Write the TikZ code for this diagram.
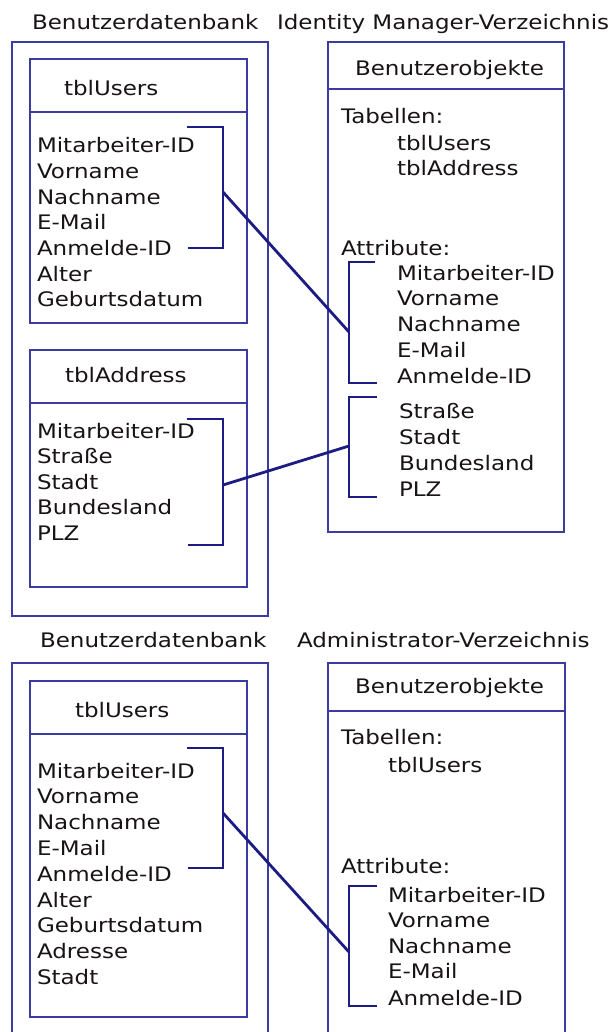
\documentclass[tikz,border=0pt]{standalone}
\usepackage{fontspec}
\setmainfont{DejaVu Sans}[FakeStretch=1.15]
\definecolor{boxc}{RGB}{60,60,160}
\definecolor{linkc}{RGB}{28,28,130}
\definecolor{txt}{RGB}{25,20,20}
\begin{document}
\begin{tikzpicture}[x=1pt,y=-1pt,
  lbl/.style={inner sep=0pt, outer sep=0pt, anchor=base west, font=\fontsize{20}{24}\selectfont, text=txt},
  boxnode/.style={draw=boxc, line width=2.6pt, anchor=north west, inner sep=0pt, outer sep=0pt},
  boxline/.style={draw=boxc, line width=2.6pt},
  link/.style={draw=linkc, line width=2.8pt}]
\useasboundingbox (0,0) rectangle (613,1032);
\fill[white] (0,0) rectangle (613,1032);

% ---------- top section ----------
\node[lbl] (h1) at (32,30) {Benutzerdatenbank};
\node[lbl] (h2) at (277,30) {Identity Manager-Verzeichnis};

\node[boxnode, minimum width=256pt, minimum height=574pt] (db1) at (12,42) {};
\node[boxnode, minimum width=217pt, minimum height=264pt] (u1) at (30,59) {};
\draw[boxline] (u1.west |- 0,112) -- (u1.east |- 0,112);
\node[boxnode, minimum width=217pt, minimum height=237pt] (a1) at (30,350) {};
\draw[boxline] (a1.west |- 0,403) -- (a1.east |- 0,403);
\node[boxnode, minimum width=236pt, minimum height=490pt] (ob1) at (328,42) {};
\draw[boxline] (ob1.west |- 0,89) -- (ob1.east |- 0,89);

\node[lbl] (u1h) at (64,96) {tblUsers};
\node[lbl] (u1f1) at (37,153) {Mitarbeiter-ID};
\node[lbl] (u1f2) at (37,178.6) {Vorname};
\node[lbl] (u1f3) at (37,204.2) {Nachname};
\node[lbl] (u1f4) at (37,229.8) {E-Mail};
\node[lbl] (u1f5) at (37,255.4) {Anmelde-ID};
\node[lbl] (u1f6) at (37,281) {Alter};
\node[lbl] (u1f7) at (37,306.6) {Geburtsdatum};

\node[lbl] (a1h) at (65,382) {tblAddress};
\node[lbl] (a1f1) at (37,438) {Mitarbeiter-ID};
\node[lbl] (a1f2) at (37,463.6) {Straße};
\node[lbl] (a1f3) at (37,489.2) {Stadt};
\node[lbl] (a1f4) at (37,514.8) {Bundesland};
\node[lbl] (a1f5) at (37,540.4) {PLZ};

\node[lbl] (o1h) at (355,76) {Benutzerobjekte};
\node[lbl] (o1t) at (341,124) {Tabellen:};
\node[lbl] (o1t1) at (397,151) {tblUsers};
\node[lbl] (o1t2) at (397,176) {tblAddress};
\node[lbl] (o1a) at (341,255) {Attribute:};
\node[lbl] (o1a1) at (397,280) {Mitarbeiter-ID};
\node[lbl] (o1a2) at (397,305.7) {Vorname};
\node[lbl] (o1a3) at (397,331.4) {Nachname};
\node[lbl] (o1a4) at (397,357.1) {E-Mail};
\node[lbl] (o1a5) at (397,383) {Anmelde-ID};
\node[lbl] (o1b1) at (399,418) {Straße};
\node[lbl] (o1b2) at (399,444) {Stadt};
\node[lbl] (o1b3) at (399,470) {Bundesland};
\node[lbl] (o1b4) at (399,496) {PLZ};

% brackets and connectors (top)
\coordinate (j1) at (223,192);
\coordinate (k1) at (349,332);
\coordinate (j2) at (223,485);
\coordinate (k2) at (349,446);
\draw[link] (187,127) -- (223,127) -- (223,248) -- (188,248);
\draw[link] (375,262) -- (349,262) -- (349,383) -- (377,383);
\draw[link] (187,419) -- (223,419) -- (223,545) -- (188,545);
\draw[link] (377,397) -- (349,397) -- (349,497) -- (377,497);
\draw[link] (j1) -- (k1);
\draw[link] (j2) -- (k2);

% ---------- bottom section ----------
\node[lbl] (h3) at (40,647) {Benutzerdatenbank};
\node[lbl] (h4) at (297,647) {Administrator-Verzeichnis};

\draw[boxline] (12,1032) -- (12,663) -- (268,663) -- (268,1032);
\node[boxnode, minimum width=217pt, minimum height=336pt] (u2) at (30,681) {};
\draw[boxline] (u2.west |- 0,734) -- (u2.east |- 0,734);
\draw[boxline] (328,1032) -- (328,663) -- (565,663) -- (565,1032);
\draw[boxline] (328,711) -- (565,711);

\node[lbl] (u2h) at (75,717) {tblUsers};
\node[lbl] (u2f1) at (37,778) {Mitarbeiter-ID};
\node[lbl] (u2f2) at (37,803.8) {Vorname};
\node[lbl] (u2f3) at (37,829.6) {Nachname};
\node[lbl] (u2f4) at (37,855.4) {E-Mail};
\node[lbl] (u2f5) at (37,881.2) {Anmelde-ID};
\node[lbl] (u2f6) at (37,907) {Alter};
\node[lbl] (u2f7) at (37,932.8) {Geburtsdatum};
\node[lbl] (u2f8) at (37,958.6) {Adresse};
\node[lbl] (u2f9) at (37,984.4) {Stadt};

\node[lbl] (o2h) at (355,693) {Benutzerobjekte};
\node[lbl] (o2t) at (341,744) {Tabellen:};
\node[lbl] (o2t1) at (388,772) {tblUsers};
\node[lbl] (o2a) at (341,873) {Attribute:};
\node[lbl] (o2a1) at (388,902) {Mitarbeiter-ID};
\node[lbl] (o2a2) at (388,927.5) {Vorname};
\node[lbl] (o2a3) at (388,953) {Nachname};
\node[lbl] (o2a4) at (388,978.5) {E-Mail};
\node[lbl] (o2a5) at (388,1005) {Anmelde-ID};

\coordinate (j3) at (223,813);
\coordinate (k3) at (349,952);
\draw[link] (187,748) -- (223,748) -- (223,868) -- (188,868);
\draw[link] (377,886) -- (349,886) -- (349,1006) -- (377,1006);
\draw[link] (j3) -- (k3);
\end{tikzpicture}
\end{document}
